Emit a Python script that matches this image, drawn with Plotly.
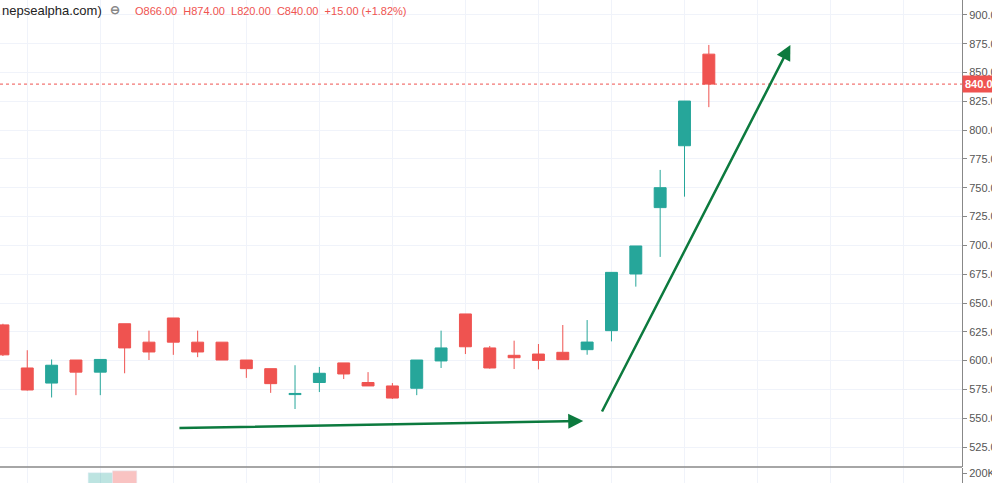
import plotly.graph_objects as go

idx = list(range(30))
opens = [631, 593.6, 580.5, 600.5, 590, 632, 616, 637, 616, 616, 600.5, 593, 570.5, 581, 598, 581, 578, 576, 599.7, 640.5, 611, 604.6, 605.7, 607.2, 609.5, 626, 675.2, 732.8, 786.5, 866]
highs = [632, 609, 601, 600.5, 601, 632, 626, 637, 626, 616, 600.5, 593, 596, 594.5, 598, 590, 580.5, 600.5, 626, 640.5, 612.7, 617.3, 614.4, 630.9, 635.2, 676.6, 699.5, 765.5, 825.3, 874]
lows = [604, 574, 568, 570, 570, 589, 600.5, 605, 603, 600.5, 585, 572, 558, 572.7, 584, 578, 566.7, 570, 593.6, 605.7, 593, 592.7, 592.4, 600.5, 605.1, 616.7, 664.2, 690, 742.3, 820]
closes = [605, 574.5, 596, 590, 601, 611, 607.5, 616, 607.5, 600.5, 593, 580, 571.5, 589, 588.4, 578, 567.5, 600.5, 611, 612, 593.6, 602.5, 600.2, 600.8, 616.1, 676.6, 699.5, 750.1, 825.3, 840]
volumes = [40, 40, 40, 40, 205, 215, 40, 40, 40, 40, 40, 40, 40, 40, 40, 40, 40, 40, 40, 40, 40, 40, 40, 40, 40, 40, 40, 40, 40, 40]
price_ticks = [525, 550, 575, 600, 625, 650, 675, 700, 725, 750, 775, 800, 825, 850, 875, 900]
last_close = 840

UP, DN = "#26a69a", "#ef5350"
vol_colors = ["rgba(38,166,154,0.3)" if c >= o else "rgba(239,83,80,0.35)" for o, c in zip(opens, closes)]

fig = go.Figure()
fig.add_trace(go.Candlestick(
    x=idx, open=opens, high=highs, low=lows, close=closes,
    increasing=dict(line=dict(color=UP, width=1), fillcolor=UP),
    decreasing=dict(line=dict(color=DN, width=1), fillcolor=DN),
    whiskerwidth=0, showlegend=False, hoverinfo="skip", xaxis="x", yaxis="y"))
fig.add_trace(go.Bar(x=idx, y=volumes, marker_color=vol_colors, width=1.0,
                     showlegend=False, xaxis="x", yaxis="y2", hoverinfo="skip"))

fig.update_layout(
    width=992, height=483, margin=dict(l=0, r=30, t=0, b=0, autoexpand=False),
    plot_bgcolor="white", paper_bgcolor="white",
    font=dict(family="Liberation Sans, Arial", size=11, color="#555"),
    xaxis=dict(range=[-0.12, 39.4], rangeslider=dict(visible=False), showticklabels=False,
               tickmode="array", tickvals=[1, 4, 7, 10, 13, 16, 19, 22, 25, 28, 31, 34, 37],
               showgrid=True, gridcolor="#f0f3fa", zeroline=False, anchor="y2", automargin=False),
    yaxis=dict(domain=[0.033, 1], range=[507.6, 913], side="right", tickmode="array",
               tickvals=price_ticks, ticktext=["%.2f" % v for v in price_ticks],
               showgrid=True, gridcolor="#f0f3fa", automargin=False,
               showline=True, linecolor="#888", ticks="outside", ticklen=4, tickcolor="#888",
               zeroline=False, anchor="x"),
    yaxis2=dict(domain=[0, 0.031], range=[150, 230], side="right", tickmode="array",
                tickvals=[200], ticktext=["200K"], automargin=False,
                showgrid=False, showline=True, linecolor="#888", ticks="outside", ticklen=4,
                tickcolor="#888", zeroline=False, anchor="x"),
)

fig.add_shape(type="line", xref="paper", yref="paper", x0=0, x1=1.0, y0=0.033, y1=0.033,
              line=dict(color="#888", width=1.5))
fig.add_shape(type="line", xref="paper", yref="y", x0=0, x1=1, y0=last_close, y1=last_close,
              line=dict(color=DN, width=1, dash="dot"))

fig.add_annotation(xref="paper", yref="y", x=1.0, y=last_close, xanchor="left",
                   text="<b>840.00</b>", showarrow=False, bgcolor=DN,
                   font=dict(color="white", size=11), borderpad=2)

arrow = dict(xref="x", yref="y", axref="x", ayref="y", showarrow=True, arrowhead=2,
             arrowsize=1.2, arrowwidth=2.5, arrowcolor="#0c7a3e", text="")
fig.add_annotation(x=23.84, y=547.6, ax=7.19, ay=541.5, **arrow)
fig.add_annotation(x=32.35, y=874, ax=24.58, ay=554.5, **arrow)

fig.add_annotation(xref="paper", yref="paper", x=0, y=0.998, xanchor="left", yanchor="top",
                   showarrow=False, font=dict(size=13, color="#222"),
                   text="nepsealpha.com)")
fig.add_annotation(xref="paper", yref="paper", x=0.112, y=0.998, xanchor="left", yanchor="top",
                   showarrow=False, font=dict(size=12, color="#888"), text="<b>⊖</b>")
fig.add_annotation(xref="paper", yref="paper", x=0.138, y=0.993, xanchor="left", yanchor="top",
                   showarrow=False, font=dict(size=11, color=DN),
                   text="O866.00  H874.00  L820.00  C840.00  +15.00 (+1.82%)")

fig.write_html("out.html", config={"displayModeBar": False},
               post_script="document.body.style.margin='0';document.body.style.overflow='hidden';")
